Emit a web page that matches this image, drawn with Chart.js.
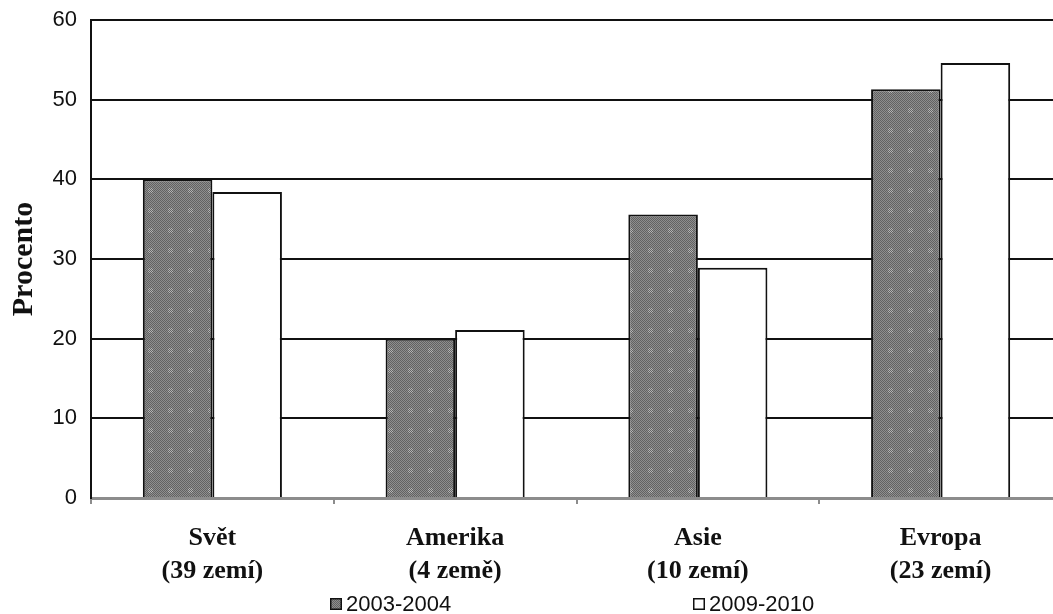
<!DOCTYPE html>
<html><head><meta charset="utf-8">
<script src="https://cdn.jsdelivr.net/npm/chart.js@4"></script>
<style>html,body{margin:0;padding:0;background:#fff;overflow:hidden}#wrap{width:1062px;height:614px}</style>
</head><body><div id="wrap"><canvas id="c" width="1062" height="614"></canvas></div>
<script>
const categories = [['Svět', '(39 zemí)'], ['Amerika', '(4 země)'], ['Asie', '(10 zemí)'], ['Evropa', '(23 zemí)']];
const seriesNames = ['2003-2004', '2009-2010'];
const values2003 = [40.0, 20.0, 35.6, 51.3];
const values2009 = [38.4, 21.1, 28.9, 54.6];
const yTicks = [0, 10, 20, 30, 40, 50, 60];
const yTitle = 'Procento';

function makePattern() {
  const p = document.createElement('canvas');
  p.width = 20; p.height = 20;
  const g = p.getContext('2d');
  for (let y = 0; y < 20; y++) for (let x = 0; x < 20; x++) {
    g.fillStyle = ((x + y) % 2 === 0) ? '#626262' : '#8e8e8e';
    g.fillRect(x, y, 1, 1);
  }
  for (let y = 8; y < 13; y++) for (let x = 8; x < 13; x++) {
    if ((x + y) % 2 === 1) { g.fillStyle = '#b4b4b4'; g.fillRect(x, y, 1, 1); }
  }
  return g.createPattern(p, 'repeat');
}
const darkFill = makePattern();

const legendPlugin = {
  id: 'customLegend',
  afterDraw(chart) {
    const ctx = chart.ctx, a = chart.chartArea;
    const xs = [a.left + a.width * 0.2461, a.left + a.width * 0.620];
    const fills = [darkFill, '#ffffff'];
    const base = chart.height - 3;
    ctx.save();
    ctx.font = '22px "Liberation Sans", Arial, sans-serif';
    ctx.textBaseline = 'alphabetic';
    ctx.textAlign = 'left';
    seriesNames.forEach((name, i) => {
      const x = Math.round(xs[i]);
      ctx.fillStyle = fills[i];
      ctx.fillRect(x, base - 13, 12, 12);
      ctx.strokeStyle = '#111';
      ctx.lineWidth = 1.5;
      ctx.strokeRect(x + 0.75, base - 12.25, 10.5, 10.5);
      ctx.fillStyle = '#111';
      ctx.fillText(name, x + 16, base);
    });
    ctx.restore();
  }
};

new Chart(document.getElementById('c'), {
  type: 'bar',
  data: {
    labels: categories,
    datasets: [
      { label: seriesNames[0], data: values2003, backgroundColor: darkFill, borderColor: '#111', borderWidth: 2, borderSkipped: 'bottom' },
      { label: seriesNames[1], data: values2009, backgroundColor: '#ffffff', borderColor: '#111', borderWidth: 2, borderSkipped: 'bottom' }
    ]
  },
  options: {
    responsive: false,
    animation: false,
    datasets: { bar: { categoryPercentage: 0.573, barPercentage: 1.0 } },
    layout: { padding: { top: 20, left: 0, right: 0, bottom: 26 } },
    plugins: { legend: { display: false }, tooltip: { enabled: false } },
    scales: {
      x: {
        afterFit(s) { s.height = 90; s.paddingLeft = 0; s.paddingRight = 0; },
        grid: { display: true, drawOnChartArea: false, drawTicks: true, tickLength: 6, color: '#8c8c8c', lineWidth: 2, offset: true },
        border: { display: true, color: '#8c8c8c', width: 3 },
        ticks: { color: '#111', padding: 17, font: { family: '"Liberation Serif", "Times New Roman", serif', size: 26, weight: 'bold', lineHeight: 1.3 }, maxRotation: 0, autoSkip: false }
      },
      y: {
        min: yTicks[0], max: yTicks[yTicks.length - 1],
        afterFit(s) { s.width = 91; s.paddingTop = 0; s.paddingBottom = 0; },
        afterBuildTicks(s) { s.ticks = yTicks.map(v => ({ value: v })); },
        grid: { drawTicks: false, color: (c) => c.tick && c.tick.value === 0 ? 'rgba(0,0,0,0)' : '#111', lineWidth: 2 },
        border: { display: true, color: '#111', width: 2 },
        ticks: { color: '#111', padding: 14, font: { family: '"Liberation Sans", Arial, sans-serif', size: 22 } },
        title: { display: true, text: yTitle, color: '#111', padding: { top: 6, bottom: 0 }, font: { family: '"Liberation Serif", "Times New Roman", serif', size: 30, weight: 'bold' } }
      }
    }
  },
  plugins: [legendPlugin]
});
</script></body></html>
